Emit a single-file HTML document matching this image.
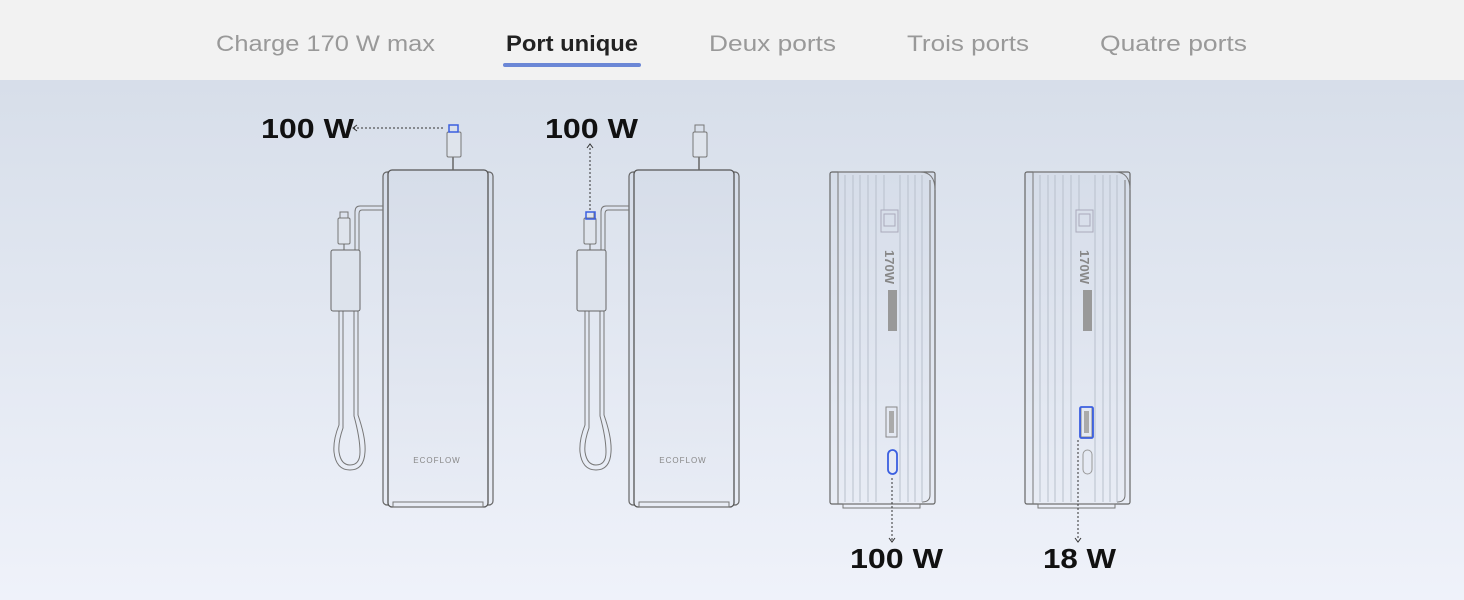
<!DOCTYPE html>
<html><head><meta charset="utf-8"><style>
html,body{margin:0;padding:0;width:1464px;height:600px;overflow:hidden;font-family:"Liberation Sans",sans-serif}
</style></head><body>
<svg width="1464" height="600" viewBox="0 0 1464 600" xmlns="http://www.w3.org/2000/svg">
<defs>
<linearGradient id="bg" x1="0" y1="0" x2="0" y2="1">
<stop offset="0" stop-color="#d3dbe7"/><stop offset="1" stop-color="#eff2fa"/>
</linearGradient>
<linearGradient id="bd" x1="0" y1="0" x2="0" y2="1">
<stop offset="0" stop-color="#d6dde9"/><stop offset="1" stop-color="#e8ecf5"/>
</linearGradient>
<g id="dev">
<rect x="383" y="172" width="110" height="333" rx="4" fill="url(#bd)" stroke="#666" stroke-width="1.2"/>
<rect x="388" y="170" width="100" height="337" rx="4" fill="url(#bd)" stroke="#555" stroke-width="1.3"/>
<rect x="393" y="502" width="90" height="5" fill="none" stroke="#777" stroke-width="1"/>
<line x1="453" y1="157" x2="453" y2="170" stroke="#666" stroke-width="1.5"/>
<rect x="447" y="132" width="14" height="25" rx="1.5" fill="#dfe4ec" stroke="#777"/>
<rect x="449" y="125" width="9" height="7" fill="none" stroke="#777"/>
<path d="M383 206 H360 Q355 206 355 212 V250" fill="none" stroke="#777" stroke-width="1"/>
<path d="M383 210 H362 Q359 210 359 214 V250" fill="none" stroke="#777" stroke-width="1"/>
<rect x="338" y="218" width="12" height="26" rx="1.5" fill="#dfe4ec" stroke="#777"/>
<rect x="340" y="212" width="8" height="6" fill="none" stroke="#777"/>
<line x1="344" y1="244" x2="344" y2="250" stroke="#666"/>
<path d="M339 311 V425 Q333 440 334 452 Q336 470 350 470 Q364 470 365 452 Q366 438 358 415 V311" fill="none" stroke="#777"/>
<path d="M343 311 V428 Q338 442 339 452 Q341 465 350 465 Q360 465 360 452 Q360 438 354 416 V311" fill="none" stroke="#777"/>
<rect x="331" y="250" width="29" height="61" rx="2" fill="#dde3ec" stroke="#666"/>
<text x="437" y="463" font-size="8" fill="#888" text-anchor="middle" letter-spacing="1">ECOFLOW</text>
</g>
<g id="side">
<rect x="830" y="172" width="105" height="332" rx="2" fill="url(#bd)" stroke="#666" stroke-width="1.2"/>
<path d="M838 172 V504 M838 172 H920 Q935 172 935 190" fill="none" stroke="#777"/>
<path d="M930 180 V495 Q930 502 922 502" fill="none" stroke="#777"/>
<rect x="843" y="504" width="77" height="4" fill="none" stroke="#777"/>
<g stroke="#b8c0cc" stroke-width="1">
<line x1="845" y1="175" x2="845" y2="502"/><line x1="853" y1="175" x2="853" y2="502"/>
<line x1="860" y1="175" x2="860" y2="502"/><line x1="868" y1="175" x2="868" y2="502"/>
<line x1="876" y1="175" x2="876" y2="502"/><line x1="884" y1="175" x2="884" y2="210"/>
<line x1="900" y1="175" x2="900" y2="502"/><line x1="908" y1="175" x2="908" y2="502"/>
<line x1="915" y1="175" x2="915" y2="502"/><line x1="922" y1="175" x2="922" y2="502"/>
</g>
<rect x="881" y="210" width="17" height="22" fill="none" stroke="#aab"/>
<rect x="884" y="214" width="11" height="12" fill="none" stroke="#aab"/>
<text transform="translate(885,250) rotate(90)" font-size="13" font-weight="bold" fill="#888">170W</text>
<rect x="888" y="290" width="9" height="41" fill="#999"/>
<rect x="886" y="407" width="11" height="30" fill="none" stroke="#888"/>
<rect x="889" y="411" width="5" height="22" fill="#aaa"/>
<rect x="888" y="450" width="9" height="24" rx="4.5" fill="none" stroke="#999"/>
</g>
</defs>
<rect width="1464" height="600" fill="url(#bg)"/>
<rect width="1464" height="80" fill="#f2f2f2"/>
<g font-size="22" fill="#999">
<text x="216" y="51" textLength="219" lengthAdjust="spacingAndGlyphs">Charge 170 W max</text>
<text x="506" y="51" fill="#222" font-weight="bold" textLength="132" lengthAdjust="spacingAndGlyphs">Port unique</text>
<text x="709" y="51" textLength="127" lengthAdjust="spacingAndGlyphs">Deux ports</text>
<text x="907" y="51" textLength="122" lengthAdjust="spacingAndGlyphs">Trois ports</text>
<text x="1100" y="51" textLength="147" lengthAdjust="spacingAndGlyphs">Quatre ports</text>
</g>
<rect x="503" y="63" width="138" height="4" rx="2" fill="#6b87d6"/>

<use href="#dev"/>
<use href="#dev" transform="translate(246,0)"/>
<use href="#side"/>
<use href="#side" transform="translate(195,0)"/>

<rect x="449" y="125" width="9" height="7" fill="none" stroke="#3b5fe0" stroke-width="1.5"/>
<rect x="586" y="212" width="9" height="7" fill="none" stroke="#3b5fe0" stroke-width="1.5"/>
<rect x="888" y="450" width="9" height="24" rx="4.5" fill="none" stroke="#3b5fe0" stroke-width="1.8"/>
<rect x="1080" y="407" width="13" height="31" rx="1.5" fill="none" stroke="#3b5fe0" stroke-width="1.8"/>

<g stroke="#333" stroke-width="1" stroke-dasharray="2,2" fill="none">
<line x1="443" y1="128" x2="354" y2="128"/>
<line x1="590" y1="210" x2="590" y2="146"/>
<line x1="892" y1="478" x2="892" y2="540"/>
<line x1="1078" y1="440" x2="1078" y2="540"/>
</g>
<g stroke="#333" stroke-width="1" fill="none">
<path d="M357 125 L353 128 L357 131"/>
<path d="M587 148 L590 144 L593 148"/>
<path d="M889 538 L892 542 L895 538"/>
<path d="M1075 538 L1078 542 L1081 538"/>
</g>
<g font-size="28" font-weight="bold" fill="#111">
<text x="261" y="138" textLength="93" lengthAdjust="spacingAndGlyphs">100 W</text>
<text x="545" y="138" textLength="93" lengthAdjust="spacingAndGlyphs">100 W</text>
<text x="850" y="568" textLength="93" lengthAdjust="spacingAndGlyphs">100 W</text>
<text x="1043" y="568" textLength="73" lengthAdjust="spacingAndGlyphs">18 W</text>
</g>
</svg>
</body></html>
